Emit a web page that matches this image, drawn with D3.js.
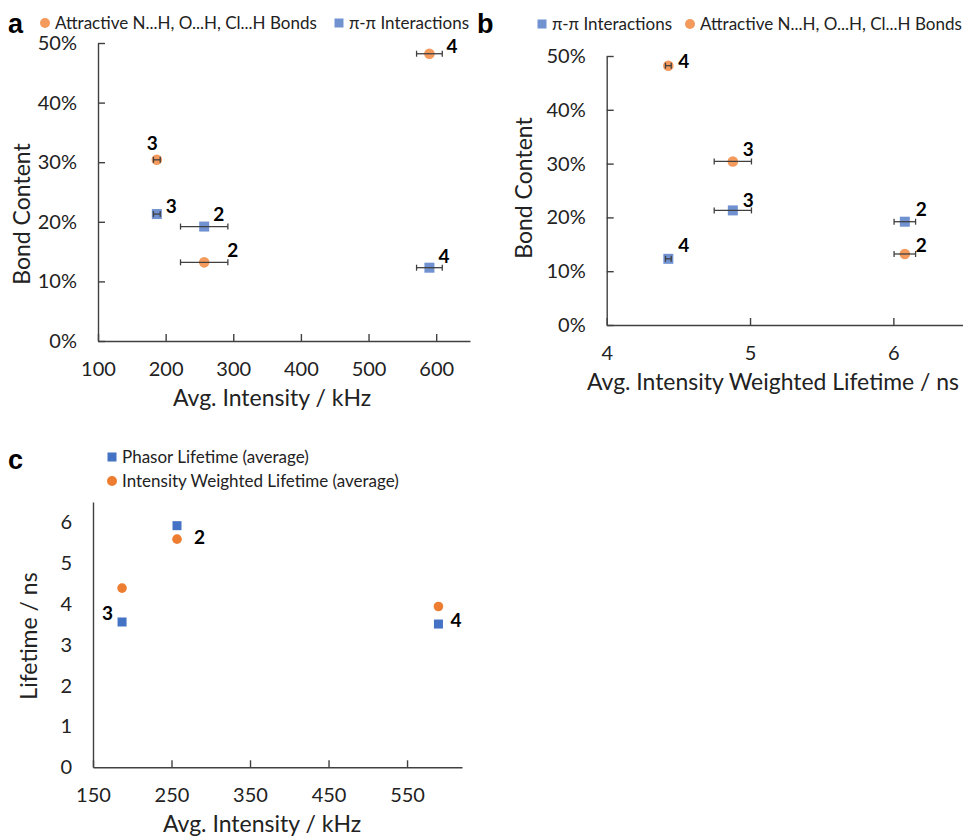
<!DOCTYPE html>
<html>
<head>
<meta charset="utf-8">
<script src="https://cdn.jsdelivr.net/npm/d3@7"></script>
<style>
  body { margin: 0; background: #fff; }
  text { font-family: Lato, "Open Sans", sans-serif; fill: #222; }
  .panel-letter { font-family: "Liberation Sans", Arial, sans-serif; font-weight: bold; font-size: 27px; fill: #000; }
  .pt-label { font-weight: bold; font-size: 19px; fill: #000; }
  .legend text { font-size: 17px; }
  .axis-title { font-size: 23px; }
  .tick text { font-size: 20px; }
</style>
</head>
<body>
<div id="main"></div>
<script>
// compounds 2, 3, 4
var compounds = ["2", "3", "4"];
var avgIntensity = [257, 187, 590];          // kHz
var avgIntensityErr = [35, 5, 19];
var hBondContent = [0.132, 0.304, 0.482];    // attractive N...H, O...H, Cl...H
var piPiContent = [0.192, 0.213, 0.123];
var iwLifetime = [6.08, 4.88, 4.43];         // ns, panel b
var iwLifetimeErr = [0.075, 0.13, 0.02];
var phasorLifetimeAvg = [5.92, 3.56, 3.51];  // panel c
var iwLifetimeAvg = [5.59, 4.39, 3.94];

var pctTicks = [0, 0.1, 0.2, 0.3, 0.4, 0.5];
var xTicksA = [100, 200, 300, 400, 500, 600];
var xTicksB = [4, 5, 6];
var xTicksC = [150, 250, 350, 450, 550];
var yTicksC = [0, 1, 2, 3, 4, 5, 6];

var orangeLight = "#f39a5c", blueLight = "#7192d1";
var orange = "#ed7d31", blue = "#4472c4";
var axisColor = "#404040";

var svg = d3.select("#main").append("svg")
    .attr("width", 963)
    .attr("height", 836);

var intFmt = d3.format("d");
var pctFmt = d3.format(".0%");

function drawAxes(x, y, xTicks, yTicks, yFmt, yTickLen) {
  var xAxis = svg.append("g")
      .attr("transform", "translate(0," + y.range()[0] + ")")
      .call(d3.axisBottom(x).tickValues(xTicks).tickFormat(intFmt).tickSize(-7).tickSizeOuter(0).tickPadding(21));
  var yAxis = svg.append("g")
      .attr("transform", "translate(" + x.range()[0] + ",0)")
      .call(d3.axisLeft(y).tickValues(yTicks).tickFormat(yFmt).tickSize(-yTickLen).tickSizeOuter(0).tickPadding(21));
  [xAxis, yAxis].forEach(function(a) {
    a.selectAll("path, line").attr("stroke", axisColor).attr("stroke-width", 1.4);
    a.selectAll("text").attr("fill", "#222");
  });
}

function errorBars(x, y, xs, ys, errs) {
  var g = svg.append("g").attr("stroke", axisColor).attr("stroke-width", 1.3);
  xs.forEach(function(v, i) {
    var x0 = x(v - errs[i]), x1 = x(v + errs[i]), yy = y(ys[i]);
    g.append("line").attr("x1", x0).attr("x2", x1).attr("y1", yy).attr("y2", yy);
    g.append("line").attr("x1", x0).attr("x2", x0).attr("y1", yy - 3).attr("y2", yy + 3);
    g.append("line").attr("x1", x1).attr("x2", x1).attr("y1", yy - 3).attr("y2", yy + 3);
  });
}

function circles(x, y, xs, ys, color, r) {
  svg.append("g").selectAll("circle")
    .data(xs)
    .enter()
    .append("circle")
    .attr("cx", function(d) { return x(d); })
    .attr("cy", function(d, i) { return y(ys[i]); })
    .attr("r", r)
    .attr("fill", color);
}

function squares(x, y, xs, ys, color, s) {
  svg.append("g").selectAll("rect")
    .data(xs)
    .enter()
    .append("rect")
    .attr("x", function(d) { return x(d) - s / 2; })
    .attr("y", function(d, i) { return y(ys[i]) - s / 2; })
    .attr("width", s)
    .attr("height", s)
    .attr("fill", color);
}

// offsets: {index: [dx, dy of baseline]} relative to each point
function labels(x, y, xs, ys, offsets) {
  var idx = Object.keys(offsets).map(Number);
  svg.append("g").selectAll("text")
    .data(idx)
    .enter()
    .append("text")
    .attr("class", "pt-label")
    .attr("x", function(i) { return x(xs[i]) + offsets[i][0]; })
    .attr("y", function(i) { return y(ys[i]) + offsets[i][1]; })
    .text(function(i) { return compounds[i]; });
}

function legendItem(x, y, shape, color, label, size) {
  var g = svg.append("g").attr("class", "legend");
  if (shape == "circle") {
    g.append("circle").attr("cx", x).attr("cy", y).attr("r", size / 2).attr("fill", color);
  } else {
    g.append("rect").attr("x", x - size / 2).attr("y", y - size / 2)
      .attr("width", size).attr("height", size).attr("fill", color);
  }
  g.append("text").attr("x", x + 10).attr("y", y + 6).text(label);
}

// ---------- panel a ----------
var xA = d3.scaleLinear().domain([100, 650]).range([98, 470]);
var yA = d3.scaleLinear().domain([0, 0.5]).range([341, 43]);
drawAxes(xA, yA, xTicksA, pctTicks, pctFmt, 7);
circles(xA, yA, avgIntensity, hBondContent, orangeLight, 5.3);
squares(xA, yA, avgIntensity, piPiContent, blueLight, 10);
errorBars(xA, yA, avgIntensity, hBondContent, avgIntensityErr);
errorBars(xA, yA, avgIntensity, piPiContent, avgIntensityErr);
labels(xA, yA, avgIntensity, hBondContent, {0: [23, -5], 1: [-10, -10], 2: [17, -1]});
labels(xA, yA, avgIntensity, piPiContent, {0: [9, -6], 1: [9, -1], 2: [9, -5]});
svg.append("text").attr("class", "axis-title").attr("x", 272).attr("y", 406)
  .attr("text-anchor", "middle").text("Avg. Intensity / kHz");
svg.append("text").attr("class", "axis-title").attr("transform", "translate(30,214) rotate(-90)")
  .attr("text-anchor", "middle").text("Bond Content");
svg.append("text").attr("class", "panel-letter").attr("x", 8).attr("y", 33).text("a");
legendItem(45, 23, "circle", orangeLight, "Attractive N...H, O...H, Cl...H Bonds", 10);
legendItem(339, 23, "rect", blueLight, "π-π Interactions", 9);

// ---------- panel b ----------
var xB = d3.scaleLinear().domain([4, 7]).range([606.7, 1036.7]);
var yB = d3.scaleLinear().domain([0, 0.5]).range([325, 56]);
drawAxes(xB, yB, xTicksB, pctTicks, pctFmt, 7);
circles(xB, yB, iwLifetime, hBondContent, orangeLight, 5.3);
squares(xB, yB, iwLifetime, piPiContent, blueLight, 10);
errorBars(xB, yB, iwLifetime, hBondContent, iwLifetimeErr);
errorBars(xB, yB, iwLifetime, piPiContent, iwLifetimeErr);
labels(xB, yB, iwLifetime, hBondContent, {0: [11, -2], 1: [10, -5], 2: [10, 2]});
labels(xB, yB, iwLifetime, piPiContent, {0: [11, -6], 1: [10, -3], 2: [10, -7]});
svg.append("text").attr("class", "axis-title").attr("x", 587).attr("y", 390)
  .attr("textLength", 372).attr("lengthAdjust", "spacingAndGlyphs")
  .text("Avg. Intensity Weighted Lifetime / ns");
svg.append("text").attr("class", "axis-title").attr("transform", "translate(532,188) rotate(-90)")
  .attr("text-anchor", "middle").text("Bond Content");
svg.append("text").attr("class", "panel-letter").attr("x", 477).attr("y", 33).text("b");
legendItem(542, 24, "rect", blueLight, "π-π Interactions", 9);
legendItem(690, 24, "circle", orangeLight, "Attractive N...H, O...H, Cl...H Bonds", 10);

// ---------- panel c ----------
var xC = d3.scaleLinear().domain([150, 620]).range([93, 462]);
var yC = d3.scaleLinear().domain([0, 6.5]).range([767.3, 502]);
drawAxes(xC, yC, xTicksC, yTicksC, intFmt, 0);
squares(xC, yC, avgIntensity, phasorLifetimeAvg, blue, 9);
circles(xC, yC, avgIntensity, iwLifetimeAvg, orange, 4.8);
labels(xC, yC, avgIntensity, iwLifetimeAvg, {0: [17, 5]});
labels(xC, yC, avgIntensity, phasorLifetimeAvg, {1: [-20, -2], 2: [12, 3]});
svg.append("text").attr("class", "axis-title").attr("x", 262).attr("y", 832)
  .attr("text-anchor", "middle").text("Avg. Intensity / kHz");
svg.append("text").attr("class", "axis-title").attr("transform", "translate(37,636) rotate(-90)")
  .attr("text-anchor", "middle").text("Lifetime / ns");
svg.append("text").attr("class", "panel-letter").attr("x", 8).attr("y", 469).text("c");
legendItem(112, 457, "rect", blue, "Phasor Lifetime (average)", 9);
legendItem(112, 481, "circle", orange, "Intensity Weighted Lifetime (average)", 10);
</script>
</body>
</html>
